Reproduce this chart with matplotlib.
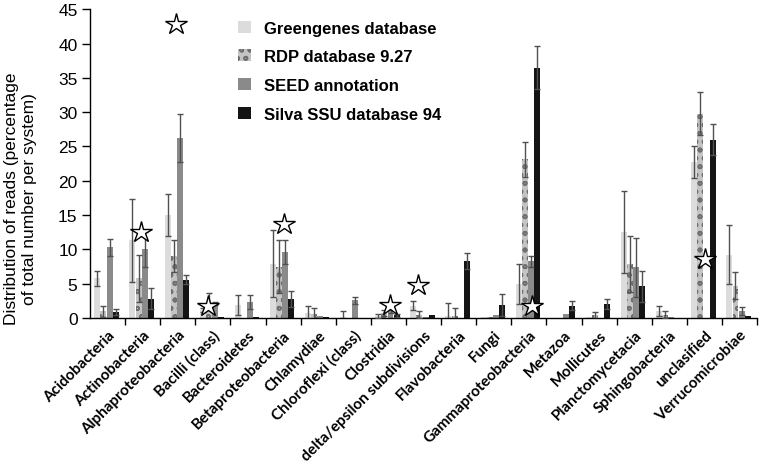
import matplotlib
matplotlib.use('Agg')
import matplotlib.pyplot as plt
import numpy as np

plt.rcParams['font.family'] = ['Liberation Sans', 'DejaVu Sans']
plt.rcParams['hatch.linewidth'] = 1.2

categories = ['Acidobacteria', 'Actinobacteria', 'Alphaproteobacteria', 'Bacilli (class)',
              'Bacteroidetes', 'Betaproteobacteria', 'Chlamydiae', 'Chloroflexi (class)',
              'Clostridia', 'delta/epsilon subdivisions', 'Flavobacteria', 'Fungi',
              'Gammaproteobacteria', 'Metazoa', 'Mollicutes', 'Planctomycetacia',
              'Sphingobacteria', 'unclasified', 'Verrucomicrobiae']

series_names = ['Greengenes database', 'RDP database 9.27', 'SEED annotation', 'Silva SSU database 94']

greengenes = [5.8, 11.3, 15.0, 1.2, 1.9, 7.9, 0.8, 0.1, 0.3, 1.8, 0.3, 0.1, 5.0, 0.0, 0.1, 12.5, 1.0, 22.7, 9.2]
greengenes_err = [1.1, 6.1, 3.1, 0.3, 1.4, 4.9, 1.0, 0.9, 0.3, 0.7, 1.9, 0.0, 2.9, 0.0, 0.0, 6.0, 0.7, 2.3, 4.3]
rdp = [1.0, 5.8, 9.0, 2.4, 0.0, 7.5, 0.6, 0.0, 0.7, 0.5, 0.3, 0.2, 23.1, 0.0, 0.4, 7.9, 0.5, 29.8, 4.7]
rdp_err = [0.8, 3.4, 2.3, 1.3, 0.0, 3.9, 0.9, 0.0, 0.4, 0.5, 1.1, 0.0, 2.5, 0.0, 0.5, 4.1, 0.5, 3.1, 2.0]
seed = [10.3, 10.0, 26.2, 2.1, 2.3, 9.6, 0.3, 2.6, 1.1, 0.1, 0.0, 0.5, 8.3, 0.6, 0.0, 7.4, 0.1, 0.0, 1.0]
seed_err = [1.2, 2.5, 3.5, 0.2, 1.0, 1.7, 0.0, 0.5, 0.4, 0.0, 0.0, 0.0, 0.8, 0.0, 0.0, 4.3, 0.0, 0.0, 0.6]
silva = [0.9, 2.8, 5.6, 0.2, 0.2, 2.8, 0.2, 0.0, 0.4, 0.4, 8.3, 1.9, 36.5, 1.8, 2.0, 4.6, 0.0, 26.0, 0.3]
silva_err = [0.4, 1.5, 0.7, 0.0, 0.0, 1.2, 0.0, 0.0, 0.2, 0.0, 1.2, 1.6, 3.1, 0.7, 0.75, 2.3, 0.0, 2.3, 0.0]

# significance stars: category, position inside the category, height
star_cats = ['Actinobacteria', 'Alphaproteobacteria', 'Bacilli (class)', 'Betaproteobacteria',
             'Clostridia', 'delta/epsilon subdivisions', 'Gammaproteobacteria', 'unclasified']
star_pos = [0.46, 0.44, 0.35, 0.52, 0.55, 0.34, 0.58, 0.52]
star_y = [12.6, 42.8, 1.8, 13.7, 1.9, 4.8, 1.8, 8.6]

values = [greengenes, rdp, seed, silva]
errors = [greengenes_err, rdp_err, seed_err, silva_err]
colours = ['#dcdcdc', '#c4c4c4', '#8a8a8a', '#141414']
hatches = [None, 'oo', None, None]

fig = plt.figure(figsize=(7.59, 4.64), dpi=100)
ax = fig.add_axes([0.1186, 0.3125, 0.879, 0.6655])

x = np.arange(len(categories))
width = 0.17
for k in range(4):
    xs = x + 0.47 + (k - 1.5) * 0.175
    ax.bar(xs, values[k], width, color=colours[k], hatch=hatches[k],
           edgecolor='#707070' if hatches[k] else colours[k], linewidth=0,
           label=series_names[k], zorder=2)
    err = np.array(errors[k])
    mask = err > 0
    ax.errorbar(xs[mask], np.array(values[k])[mask], yerr=err[mask], fmt='none',
                ecolor='#505050', elinewidth=1, capsize=2, capthick=1, zorder=3)

sx = [categories.index(c) + p for c, p in zip(star_cats, star_pos)]
ax.plot(sx, star_y, linestyle='none', marker='*', markersize=16,
        markerfacecolor='white', markeredgecolor='black', markeredgewidth=1, zorder=4)

ax.set_xlim(0, len(categories))
ax.set_ylim(0, 45)
ax.set_yticks(range(0, 46, 5))
ax.tick_params(axis='y', direction='out', length=6, labelsize=12.5, width=1, pad=3)
ax.set_xticks(x + 0.5)
ax.set_xticklabels(categories, rotation=45, ha='right', rotation_mode='anchor',
                   fontsize=11, fontweight='bold', family=['Lato', 'DejaVu Sans'])
ax.tick_params(axis='x', length=0, pad=7)
ax.set_xticks(np.arange(1, len(categories) + 1), minor=True)
ax.tick_params(axis='x', which='minor', direction='out', length=5, width=1)

for side in ['top', 'right']:
    ax.spines[side].set_visible(False)
ax.spines['left'].set_linewidth(1)
ax.spines['bottom'].set_linewidth(1)

ax.set_ylabel('Distribution of reads (percentage\nof total number per system)', fontsize=12.5,
              linespacing=1.25)
ax.yaxis.set_label_coords(-0.079, 0.39)

ax.legend(loc='upper left', bbox_to_anchor=(0.2, 1.012), frameon=False,
          prop={'weight': 'bold', 'size': 12}, handlelength=0.75, handleheight=0.75,
          labelspacing=0.82, handletextpad=0.8)

fig.savefig('out.png', dpi=100)
